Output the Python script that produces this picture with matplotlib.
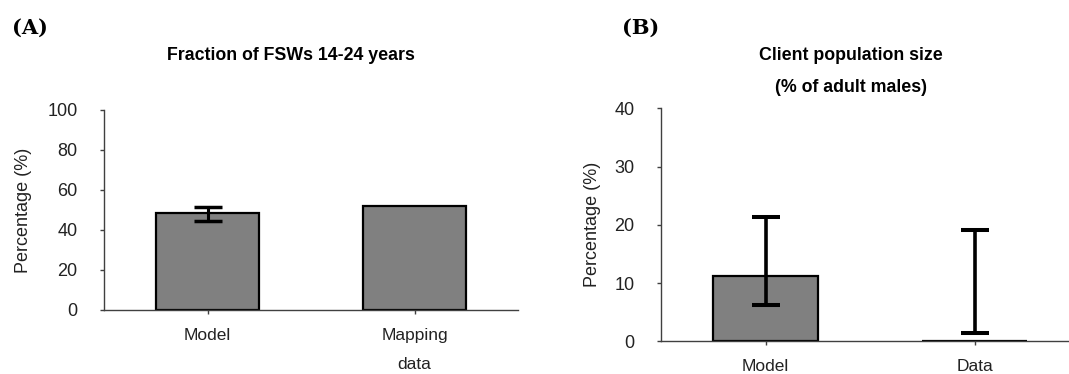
import numpy as np
import matplotlib
matplotlib.use("Agg")
import matplotlib.pyplot as plt

plt.rcParams["font.family"] = ["Liberation Sans", "DejaVu Sans"]

# panel A: fraction of FSWs aged 14-24
A_LABELS = ["Model", "Mapping\ndata"]
A_VALUES = [48.5, 52.0]
A_LOWER = [44.7, np.nan]
A_UPPER = [51.3, np.nan]
A_TICKS = [0, 20, 40, 60, 80, 100]

# panel B: client population size
B_LABELS = ["Model", "Data"]
B_VALUES = [11.2, 0.0]
B_LOWER = [6.3, 1.5]
B_UPPER = [21.3, 19.1]
B_TICKS = [0, 10, 20, 30, 40]

W, H = 1069, 374
AXIS_COLOR = "#404040"


def draw_panel(ax, labels, values, lower, upper, ticks, lw_err):
    x = np.arange(len(labels)) + 0.5
    lower = np.asarray(lower)
    upper = np.asarray(upper)
    ax.bar(x, values, width=0.5, color="#808080", edgecolor="black",
           linewidth=1.6, zorder=2)
    # intervals do not always contain the bar value, so centre the bars on the range
    mid = (lower + upper) / 2
    ax.errorbar(x, mid, yerr=(upper - lower) / 2, fmt="none", ecolor="black",
                elinewidth=lw_err, capsize=10, capthick=lw_err + 0.3, zorder=3)
    ax.set_xlim(0, 2)
    ax.set_ylim(ticks[0], ticks[-1])
    ax.set_yticks(ticks)
    ax.set_xticks(x)
    ax.set_xticklabels(labels, linespacing=2.2)
    for side in ["top", "right"]:
        ax.spines[side].set_visible(False)
    for side in ["left", "bottom"]:
        ax.spines[side].set_color(AXIS_COLOR)
        ax.spines[side].set_linewidth(1.0)
    ax.tick_params(axis="y", direction="out", length=3, width=1.0,
                   color=AXIS_COLOR, labelsize=13, pad=16, labelcolor="#222222")
    ax.tick_params(axis="x", direction="out", length=3, width=1.0,
                   color=AXIS_COLOR, labelsize=12.5, pad=10, labelcolor="#222222")
    ax.set_ylabel("Percentage (%)", fontsize=13, color="#222222")


fig = plt.figure(figsize=(W / 100, H / 100), dpi=100)

ax_a = fig.add_axes([104 / W, 1 - 310 / H, 414 / W, 200 / H])
draw_panel(ax_a, A_LABELS, A_VALUES, A_LOWER, A_UPPER, A_TICKS, 2.2)
ax_a.yaxis.set_label_coords(-72 / 414, 0.5)

ax_b = fig.add_axes([661 / W, 1 - 341.3 / H, 418 / W, 233 / H])
draw_panel(ax_b, B_LABELS, B_VALUES, B_LOWER, B_UPPER, B_TICKS, 2.6)
ax_b.yaxis.set_label_coords(-60 / 418, 0.5)

fig.text(291 / W, 1 - 55 / H, "Fraction of FSWs 14-24 years",
         ha="center", va="center", fontsize=12.8, fontweight="bold")
fig.text(851 / W, 1 - 56 / H, "Client population size",
         ha="center", va="center", fontsize=12.8, fontweight="bold")
fig.text(851 / W, 1 - 88 / H, "(% of adult males)",
         ha="center", va="center", fontsize=12.8, fontweight="bold")

fig.text(30 / W, 1 - 28 / H, "(A)", ha="center", va="center",
         fontsize=15, fontweight="bold", family=["DejaVu Serif"])
fig.text(641 / W, 1 - 28 / H, "(B)", ha="center", va="center",
         fontsize=15, fontweight="bold", family=["DejaVu Serif"])

fig.savefig("out.png", dpi=100)
